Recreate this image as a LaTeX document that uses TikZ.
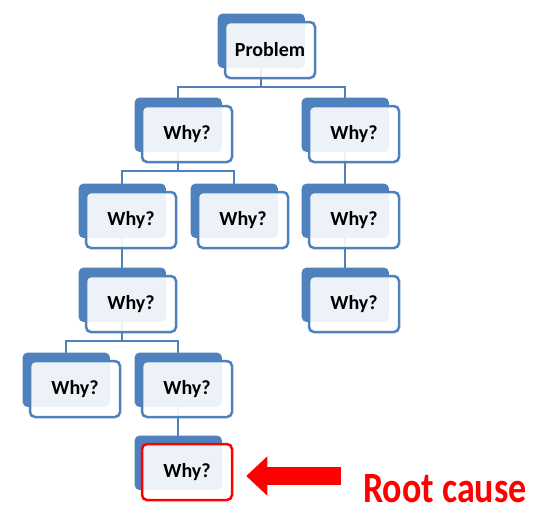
\documentclass[tikz,border=0pt]{standalone}
\usepackage{fontspec}
\newfontfamily\calib{Carlito}
\usetikzlibrary{arrows.meta, shadows, backgrounds, calc}
\definecolor{boxblue}{HTML}{4F81BD}
\definecolor{rootred}{HTML}{FF0000}

\begin{document}
\begin{tikzpicture}[
    x=1pt, y=-1pt,
    why/.style={rectangle, rounded corners=5pt, draw=boxblue, line width=2.5pt, fill=white, fill opacity=0.9, text opacity=1, minimum width=90pt, minimum height=56pt, inner sep=0pt, font=\calib\bfseries\fontsize{20}{24}\selectfont, general shadow={shadow xshift=-9pt, shadow yshift=9.5pt, shadow scale=0.97, fill=boxblue, fill opacity=1, draw=none}},
    root/.style={why, draw=rootred},
    link/.style={draw=boxblue, line width=2pt},
    redarrow/.style={-{Triangle[width=38pt, length=21pt]}, line width=18pt, rootred}
]
\useasboundingbox (0,0) rectangle (541,515);

% problem
\node[why] (prob) at (270,50) {Problem};

% first level
\node[why] (w1) at (187,134) {Why?};
\node[why] (w2) at (354,134) {Why?};

% second level
\node[why] (w3) at (131,220) {Why?};
\node[why] (w4) at (243,220) {Why?};
\node[why] (w5) at (354,220) {Why?};

% third level
\node[why] (w6) at (131,304) {Why?};
\node[why] (w7) at (354,304) {Why?};

% fourth level
\node[why] (w8) at (75,389) {Why?};
\node[why] (w9) at (187,389) {Why?};

% root cause
\node[root] (w10) at (187,472) {Why?};
\node[font=\calib\bfseries\fontsize{36}{40}\selectfont, text=rootred] (rc) at (445,489) {\scalebox{1}[1.2]{Root cause}};

% links
\begin{scope}[on background layer]
\draw[link] ([xshift=-9pt]prob.center) -- ++(0,37) -| ([xshift=-9pt]w1.center);
\draw[link] ([xshift=-9pt]prob.center) -- ++(0,37) -| ([xshift=-9pt]w2.center);
\draw[link] ([xshift=-9pt]w1.center) -- ++(0,37) -| ([xshift=-9pt]w3.center);
\draw[link] ([xshift=-9pt]w1.center) -- ++(0,37) -| ([xshift=-9pt]w4.center);
\draw[link] ([xshift=-9pt]w2.center) -- ([xshift=-9pt]w5.center);
\draw[link] ([xshift=-9pt]w5.center) -- ([xshift=-9pt]w7.center);
\draw[link] ([xshift=-9pt]w3.center) -- ([xshift=-9pt]w6.center);
\draw[link] ([xshift=-9pt]w6.center) -- ++(0,37) -| ([xshift=-9pt]w8.center);
\draw[link] ([xshift=-9pt]w6.center) -- ++(0,37) -| ([xshift=-9pt]w9.center);
\draw[link] ([xshift=-9pt]w9.center) -- ([xshift=-9pt]w10.center);
\end{scope}

% arrow
\coordinate (tail) at (341,476);
\draw[redarrow, shorten >=13pt] (tail) -- (tail -| w10.east);

\end{tikzpicture}
\end{document}
